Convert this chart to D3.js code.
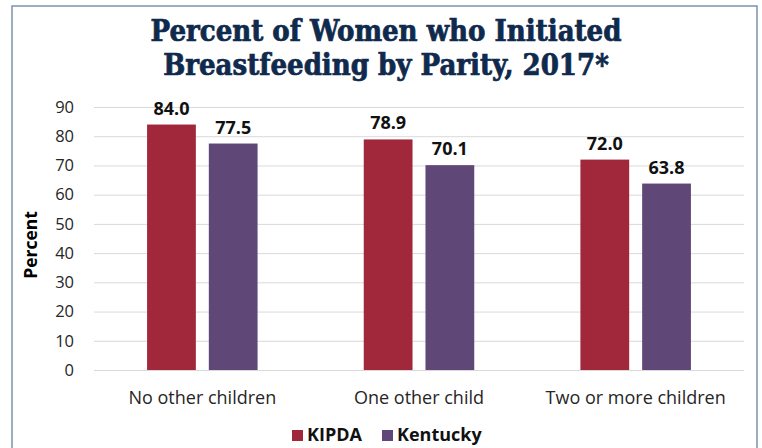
<!DOCTYPE html>
<html><head><meta charset="utf-8">
<script src="https://cdn.jsdelivr.net/npm/d3@7"></script>
<style>
html,body{margin:0;padding:0;background:#fff;}
svg{display:block;}
</style></head>
<body>
<svg id="chart" width="762" height="448"></svg>
<script>
const titleLines = ["Percent of Women who Initiated", "Breastfeeding by Parity, 2017*"];
const categories = ["No other children", "One other child", "Two or more children"];
const seriesNames = ["KIPDA", "Kentucky"];
const kipdaValues = [84.0, 78.9, 72.0];
const kentuckyValues = [77.5, 70.1, 63.8];
const yTicks = [0, 10, 20, 30, 40, 50, 60, 70, 80, 90];
const yLabel = "Percent";
const colors = ["#a0283a", "#5f4878"];

(function () {
const svg = d3.select("#chart");
const mLeft = 94, mRight = 744, mTop = 107, mBottom = 370;

// frame
svg.append("rect").attr("x", 12).attr("y", 6).attr("width", 745).attr("height", 460)
  .attr("fill", "none").attr("stroke", "#7d92ad").attr("stroke-width", 1.5);

// title
const title = svg.append("text").attr("text-anchor", "middle")
  .attr("font-family", "'DejaVu Serif Condensed','DejaVu Serif',serif")
  .attr("font-weight", "bold").attr("font-size", 29).attr("fill", "#0f2a4d")
  .attr("stroke", "#0f2a4d").attr("stroke-width", 0.7);
const titleY = [41, 75];
titleLines.forEach((t, i) => title.append("tspan").attr("x", 386).attr("y", titleY[i]).text(t));

const y = d3.scaleLinear().domain([0, 90]).range([mBottom, mTop]);
const x0 = d3.scaleBand().domain(categories).range([mLeft, mRight]).paddingInner(0.49).paddingOuter(0.245);
const x1 = d3.scaleBand().domain(seriesNames).range([0, x0.bandwidth()]).paddingInner(0.21);

const data = categories.map((c, i) => ({cat: c, vals: [kipdaValues[i], kentuckyValues[i]]}));

// gridlines
const yAxis = d3.axisLeft(y).tickValues(yTicks).tickSize(-(mRight - mLeft)).tickPadding(20);
const ga = svg.append("g").attr("transform", `translate(${mLeft},0)`).call(yAxis);
ga.select(".domain").remove();
ga.selectAll(".tick line").attr("stroke", "#d9d9d9").attr("stroke-width", 1);
ga.selectAll(".tick text").attr("font-family", "'Open Sans',sans-serif").attr("font-size", 16.5)
  .attr("fill", "#262626");

// y label
svg.append("text").attr("transform", `translate(37,245) rotate(-90)`)
  .attr("text-anchor", "middle").attr("font-family", "'Open Sans',sans-serif")
  .attr("font-weight", "bold").attr("font-size", 17.5).attr("fill", "#000").text(yLabel);

// bars
const groups = svg.append("g").selectAll("g").data(data).join("g")
  .attr("transform", d => `translate(${x0(d.cat)},0)`);
groups.selectAll("rect").data(d => d.vals.map((v, j) => ({name: seriesNames[j], v, j}))).join("rect")
  .attr("x", d => x1(d.name)).attr("width", x1.bandwidth())
  .attr("y", d => y(d.v)).attr("height", d => y(0) - y(d.v))
  .attr("fill", d => colors[d.j]);
groups.selectAll("text").data(d => d.vals.map((v, j) => ({name: seriesNames[j], v, j}))).join("text")
  .attr("x", d => x1(d.name) + x1.bandwidth() / 2).attr("y", d => y(d.v) - 10)
  .attr("text-anchor", "middle").attr("font-family", "'Open Sans',sans-serif")
  .attr("font-weight", "bold").attr("font-size", 18).attr("fill", "#111")
  .text(d => d.v.toFixed(1));

// x axis labels
const xAxis = d3.axisBottom(x0).tickSize(0).tickPadding(0);
const gx = svg.append("g").attr("transform", `translate(0,${mBottom})`).call(xAxis);
gx.select(".domain").remove();
gx.selectAll(".tick text").attr("dy", null).attr("y", 34).attr("font-family", "'Open Sans',sans-serif")
  .attr("font-size", 18).attr("fill", "#262626");

// legend
const legend = svg.append("g").attr("transform", "translate(292,441)");
const legX = [0, 90];
seriesNames.forEach((n, i) => {
  const g = legend.append("g").attr("transform", `translate(${legX[i]},0)`);
  g.append("rect").attr("x", 0).attr("y", -11).attr("width", 11).attr("height", 11).attr("fill", colors[i]);
  g.append("text").attr("x", 15).attr("y", 0).attr("font-family", "'Open Sans',sans-serif")
    .attr("font-weight", "bold").attr("font-size", 18).attr("fill", "#111").text(n);
});
})();
</script>
</body></html>
